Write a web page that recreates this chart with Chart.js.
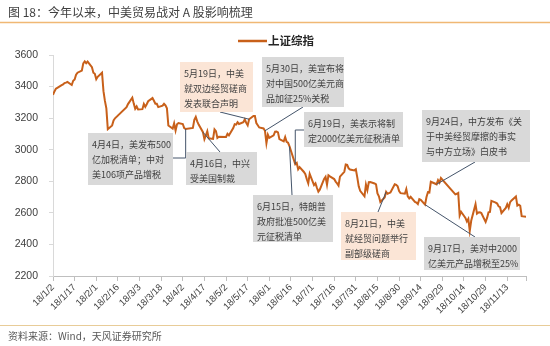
<!DOCTYPE html>
<html>
<head>
<meta charset="utf-8">
<script src="https://cdn.jsdelivr.net/npm/chart.js@4"></script>
<style>
  html, body { margin: 0; padding: 0; background: #fff; }
  canvas { display: block; }
</style>
</head>
<body>
<canvas id="myChart" width="550" height="346"></canvas>
<script>
// 上证综指 2018 daily close
const tradeDates = [
  "1/2","1/3","1/4","1/5","1/8","1/9","1/10","1/11","1/12","1/15","1/16","1/17","1/18","1/19","1/22","1/23","1/24","1/25","1/26","1/29","1/30","1/31",
  "2/1","2/2","2/5","2/6","2/7","2/8","2/9","2/12","2/13","2/14","2/22","2/23","2/26","2/27","2/28",
  "3/1","3/2","3/5","3/6","3/7","3/8","3/9","3/12","3/13","3/14","3/15","3/16","3/19","3/20","3/21","3/22","3/23","3/26","3/27","3/28","3/29","3/30",
  "4/2","4/3","4/4","4/9","4/10","4/11","4/12","4/13","4/16","4/17","4/18","4/19","4/20","4/23","4/24","4/25","4/26","4/27",
  "5/2","5/3","5/4","5/7","5/8","5/9","5/10","5/11","5/14","5/15","5/16","5/17","5/18","5/21","5/22","5/23","5/24","5/25","5/28","5/29","5/30","5/31",
  "6/1","6/4","6/5","6/6","6/7","6/8","6/11","6/12","6/13","6/14","6/15","6/19","6/20","6/21","6/22","6/25","6/26","6/27","6/28","6/29",
  "7/2","7/3","7/4","7/5","7/6","7/9","7/10","7/11","7/12","7/13","7/16","7/17","7/18","7/19","7/20","7/23","7/24","7/25","7/26","7/27","7/30","7/31",
  "8/1","8/2","8/3","8/6","8/7","8/8","8/9","8/10","8/13","8/14","8/15","8/16","8/17","8/20","8/21","8/22","8/23","8/24","8/27","8/28","8/29","8/30","8/31",
  "9/3","9/4","9/5","9/6","9/7","9/10","9/11","9/12","9/13","9/14","9/17","9/18","9/19","9/20","9/21","9/25","9/26","9/27","9/28",
  "10/8","10/9","10/10","10/11","10/12","10/15","10/16","10/17","10/18","10/19","10/22","10/23","10/24","10/25","10/26","10/29","10/30","10/31",
  "11/1","11/2","11/5","11/6","11/7","11/8","11/9","11/12","11/13","11/14","11/15","11/16","11/19","11/20","11/21","11/22","11/23","11/26"
];

const closes = [
  3348,3369,3386,3392,3409,3414,3422,3425,3429,3410,3437,3445,3475,3488,3501,3547,3559,3548,3558,3523,3488,3481,
  3447,3462,3488,3371,3309,3262,3130,3154,3185,3199,3269,3289,3330,3292,3259,
  3274,3255,3257,3290,3272,3288,3307,3327,3310,3291,3291,3270,3279,3291,3281,3263,3153,3134,3167,3122,3161,3169,
  3163,3137,3131,3138,3190,3208,3180,3159,3111,3067,3091,3117,3072,3068,3129,3118,3075,3082,
  3081,3101,3091,3137,3162,3159,3174,3163,3174,3192,3170,3154,3193,3214,3214,3169,3155,3141,3135,3120,3041,3095,
  3075,3091,3114,3115,3110,3067,3053,3080,3050,3044,3022,2908,2916,2876,2890,2859,2845,2813,2787,2847,
  2776,2787,2759,2734,2747,2815,2828,2778,2838,2831,2814,2798,2787,2773,2829,2860,2906,2904,2882,2874,2869,2876,
  2825,2768,2740,2705,2779,2744,2794,2795,2786,2781,2723,2705,2669,2698,2733,2721,2725,2729,2781,2778,2769,2738,2725,
  2721,2751,2704,2692,2702,2669,2665,2656,2687,2682,2652,2700,2731,2729,2797,2781,2807,2792,2821,
  2717,2721,2726,2583,2607,2568,2546,2562,2486,2550,2655,2595,2603,2604,2599,2542,2568,2603,
  2606,2676,2665,2659,2641,2636,2599,2631,2655,2632,2668,2679,2704,2646,2652,2645,2579,2576
];

const yTicks = [2200, 2400, 2600, 2800, 3000, 3200, 3400, 3600];
const tickEveryDays = 15;
const lastDay = "11/26";

const DAY = 86400000;
const start = Date.UTC(2018, 0, 2);

function dayOffset(md) {
  const [m, d] = md.split("/").map(Number);
  return Math.round((Date.UTC(2018, m - 1, d) - start) / DAY);
}

function closeOn(md) {
  return closes[tradeDates.indexOf(md)];
}

const points = tradeDates.map((md, i) => ({ x: dayOffset(md), y: closes[i] }));

// event notes: box layout in pixels, leader goes to the close on `date`
const notes = [
  { date: "4/4", box: [88, 133, 85, 52], fill: "#d9d9d9", elbow: true, from: [173, 158],
    lines: ["4月4日，美发布500", "亿加税清单；中对", "美106项产品增税"] },
  { date: "4/16", box: [186, 152, 71, 33], fill: "#d9d9d9", from: [220, 152],
    lines: ["4月16日，中兴", "受美国制裁"] },
  { date: "5/18", box: [180, 62, 73, 50], fill: "#fbe5d6", from: [220, 112],
    lines: ["5月19日，中美", "就双边经贸磋商", "发表联合声明"] },
  { date: "5/29", box: [262, 57, 82, 50], fill: "#d9d9d9", from: [303, 107],
    lines: ["5月30日，美宣布将", "对中国500亿美元商", "品加征25%关税"] },
  { date: "6/19", box: [304, 112, 99, 35], fill: "#d9d9d9", elbow: true, from: [304, 130],
    lines: ["6月19日，美表示将制", "定2000亿美元征税清单"] },
  { date: "6/15", box: [253, 195, 80, 47], fill: "#d9d9d9", from: [292, 195],
    lines: ["6月15日，特朗普", "政府批准500亿美", "元征税清单"] },
  { date: "8/21", box: [341, 212, 75, 48], fill: "#fbe5d6", from: [378, 212],
    lines: ["8月21日，中美", "就经贸问题举行", "副部级磋商"] },
  { date: "9/17", box: [424, 237, 96, 33], fill: "#d9d9d9", from: [475, 237],
    lines: ["9月17日，美对中2000", "亿美元产品增税至25%"] },
  { date: "9/25", box: [422, 110, 108, 52], fill: "#d9d9d9", from: [475, 162],
    lines: ["9月24日，中方发布《关", "于中美经贸摩擦的事实", "与中方立场》白皮书"] }
];

const LINE_COLOR = "#c8601a";
const CJK = '"Noto Sans CJK SC", "Noto Sans", sans-serif';
const LATIN = '"Liberation Sans", Arial, sans-serif';

const pagePlugin = {
  id: "page",
  beforeDraw(chart) {
    const c = chart.ctx;
    c.save();
    c.fillStyle = "#fff";
    c.fillRect(0, 0, chart.width, chart.height);

    // header
    c.fillStyle = "#404040";
    c.font = "12px " + CJK;
    c.textBaseline = "middle";
    c.fillText("图 18：今年以来，中美贸易战对 A 股影响梳理", 8, 12);
    c.strokeStyle = "#f0b874";
    c.lineWidth = 1.5;
    c.beginPath();
    c.moveTo(0, 22.5);
    c.lineTo(550, 22.5);
    c.stroke();

    // footer
    c.strokeStyle = "#e8cc98";
    c.lineWidth = 1;
    c.beginPath();
    c.moveTo(0, 325.5);
    c.lineTo(550, 325.5);
    c.stroke();
    c.fillStyle = "#595959";
    c.font = "10px " + CJK;
    c.fillText("资料来源：Wind，天风证券研究所", 8, 336);

    // legend
    c.strokeStyle = LINE_COLOR;
    c.lineWidth = 2.5;
    c.beginPath();
    c.moveTo(238, 41);
    c.lineTo(267, 41);
    c.stroke();
    c.fillStyle = "#262626";
    c.font = "bold 11.5px " + CJK;
    c.fillText(chart.data.datasets[0].label, 268, 41);
    c.restore();
  },
  afterDatasetsDraw(chart) {
    const c = chart.ctx;
    const xs = chart.scales.x;
    const ys = chart.scales.y;
    c.save();
    notes.forEach((n) => {
      const px = xs.getPixelForValue(dayOffset(n.date));
      const py = ys.getPixelForValue(closeOn(n.date));
      c.strokeStyle = "#44546a";
      c.lineWidth = 1;
      c.beginPath();
      c.moveTo(n.from[0], n.from[1]);
      if (n.elbow) {
        c.lineTo(px, n.from[1]);
      }
      c.lineTo(px, py);
      c.stroke();
    });
    notes.forEach((n) => {
      const [bx, by, bw, bh] = n.box;
      c.fillStyle = n.fill;
      c.fillRect(bx, by, bw, bh);
      c.fillStyle = "#404040";
      c.font = "9px " + CJK;
      c.textBaseline = "middle";
      n.lines.forEach((t, i) => c.fillText(t, bx + 4, by + 11.5 + i * 15));
    });
    c.restore();
  }
};

const ctx = document.getElementById("myChart").getContext("2d");

const myChart = new Chart(ctx, {
  type: "line",
  data: {
    datasets: [
      {
        label: "上证综指",
        data: points,
        borderColor: LINE_COLOR,
        backgroundColor: LINE_COLOR,
        borderWidth: 2,
        pointRadius: 0,
        tension: 0,
      },
    ],
  },
  options: {
    responsive: false,
    animation: false,
    layout: {
      padding: { top: 55, right: 24, bottom: 0, left: 0 },
    },
    plugins: {
      legend: { display: false },
      tooltip: { enabled: false },
    },
    scales: {
      x: {
        type: "linear",
        min: 0,
        max: dayOffset(lastDay),
        afterFit: (scale) => { scale.height = 70; },
        afterBuildTicks: (scale) => {
          const ticks = [];
          for (let v = 0; v <= scale.max; v += tickEveryDays) ticks.push({ value: v });
          ticks.push({ value: scale.max });
          scale.ticks = ticks;
        },
        ticks: {
          autoSkip: false,
          minRotation: 45,
          maxRotation: 45,
          padding: 1,
          color: "#404040",
          font: { family: LATIN, size: 9.5 },
          callback: function (value) {
            if (value % tickEveryDays !== 0) return "";
            const d = new Date(start + value * DAY);
            return "18/" + (d.getUTCMonth() + 1) + "/" + d.getUTCDate();
          },
        },
        grid: {
          drawOnChartArea: false,
          drawTicks: true,
          tickLength: 5,
          color: "#bfbfbf",
        },
        border: { color: "#bfbfbf" },
      },
      y: {
        min: yTicks[0],
        max: yTicks[yTicks.length - 1],
        afterFit: (scale) => { scale.width = 53; },
        afterBuildTicks: (scale) => {
          scale.ticks = yTicks.map((v) => ({ value: v }));
        },
        ticks: {
          padding: 11,
          color: "#404040",
          font: { family: LATIN, size: 10.5 },
          callback: (value) => String(value),
        },
        grid: {
          drawOnChartArea: false,
          drawTicks: true,
          tickLength: 4,
          color: "#d9d9d9",
        },
        border: { color: "#d9d9d9" },
      },
    },
  },
  plugins: [pagePlugin],
});
</script>
</body>
</html>
